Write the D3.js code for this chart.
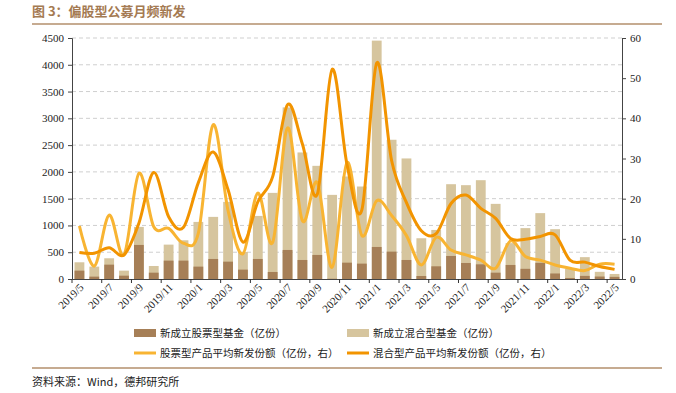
<!DOCTYPE html>
<html>
<head>
<meta charset="utf-8">
<script src="https://cdn.jsdelivr.net/npm/d3@7"></script>
<style>
  body { margin: 0; background: #fff; }
  svg { display: block; }
  .axis text { font-family: "Liberation Serif", "Times New Roman", serif; }
</style>
</head>
<body>
<div id="wrapper"></div>
<script>
const months = [
  "2019/5","2019/6","2019/7","2019/8","2019/9","2019/10","2019/11","2019/12",
  "2020/1","2020/2","2020/3","2020/4","2020/5","2020/6","2020/7","2020/8","2020/9","2020/10","2020/11","2020/12",
  "2021/1","2021/2","2021/3","2021/4","2021/5","2021/6","2021/7","2021/8","2021/9","2021/10","2021/11","2021/12",
  "2022/1","2022/2","2022/3","2022/4","2022/5"
]
// 新成立股票型基金（亿份）
const stockFund = [156, 44, 268, 62, 636, 118, 343, 343, 231, 374, 324, 175, 374, 131, 542, 355, 449, 5, 305, 287,
  598, 511, 355, 56, 237, 430, 299, 274, 118, 262, 190, 302, 103, 19, 58, 46, 40]
// 新成立混合型基金（亿份）
const mixedFund = [312, 231, 387, 156, 973, 243, 642, 723, 1066, 1160, 1440, 505, 1178, 1608, 3204, 2363, 2113, 1571, 1914, 1727,
  4451, 2600, 2251, 761, 916, 1770, 1752, 1845, 1403, 670, 950, 1230, 930, 195, 408, 134, 94]
// 股票型产品平均新发份额（亿份，右）
const stockAvg = [13.2, 3.2, 15.9, 6.0, 26.3, 13.0, 12.6, 8.9, 11.4, 38.4, 17.0, 6.3, 21.4, 9.1, 37.6, 14.5, 24.0, 2.9, 29.0, 10.8,
  19.5, 15.8, 10.8, 3.5, 10.4, 7.2, 6.0, 4.7, 2.7, 9.5, 5.6, 4.7, 3.5, 2.7, 2.1, 3.7, 3.7]
// 混合型产品平均新发份额（亿份，右）
const mixedAvg = [6.6, 6.4, 7.8, 6.0, 13.9, 26.5, 15.5, 12.9, 24.0, 31.6, 22.2, 9.2, 19.2, 25.5, 43.4, 33.6, 21.1, 52.2, 28.5, 17.2,
  53.8, 29.5, 19.0, 12.0, 11.3, 18.8, 20.9, 17.6, 15.1, 10.1, 9.9, 10.6, 11.0, 4.7, 4.2, 3.1, 2.4]

const leftTicks = [0, 500, 1000, 1500, 2000, 2500, 3000, 3500, 4000, 4500]
const rightTicks = [0, 10, 20, 30, 40, 50, 60]
const xLabels = months.filter((d, i) => i % 2 == 0)

const colors = {
  stockFund: "#a67f57",
  mixedFund: "#d6c59e",
  stockAvg: "#f8b432",
  mixedAvg: "#f29400",
  brand: "#a47a52",
}

function drawChart() {
  let dimensions = {
    width: 676,
    height: 393,
    margins: { top: 38, right: 54, bottom: 114, left: 72 }
  }
  dimensions.boundedWidth = dimensions.width - dimensions.margins.left - dimensions.margins.right
  dimensions.boundedHeight = dimensions.height - dimensions.margins.top - dimensions.margins.bottom

  const wrapper = d3.select("#wrapper")
    .append("svg")
      .attr("width", dimensions.width)
      .attr("height", dimensions.height)

  // header
  wrapper.append("text")
    .attr("x", 32)
    .attr("y", 16)
    .attr("fill", colors.brand)
    .attr("font-family", "Noto Sans CJK SC")
    .attr("font-weight", "bold")
    .attr("font-size", 13)
    .text("图 3：偏股型公募月频新发")
  wrapper.append("line")
    .attr("x1", 32).attr("x2", 662)
    .attr("y1", 24).attr("y2", 24)
    .attr("stroke", "#b38f6c")
    .attr("stroke-width", 1.5)

  const bounds = wrapper.append("g")
    .attr("transform", `translate(${dimensions.margins.left}, ${dimensions.margins.top})`)

  const xScale = d3.scaleBand()
    .domain(months)
    .range([0, dimensions.boundedWidth])
    .paddingInner(0.34)
    .paddingOuter(0.17)

  const yScale = d3.scaleLinear()
    .domain([0, 4500])
    .range([dimensions.boundedHeight, 0])

  const y2Scale = d3.scaleLinear()
    .domain([0, 60])
    .range([dimensions.boundedHeight, 0])

  // grid
  bounds.append("g")
    .selectAll("line")
    .data(leftTicks.filter(d => d > 0))
    .join("line")
      .attr("x1", 0)
      .attr("x2", dimensions.boundedWidth)
      .attr("y1", d => yScale(d))
      .attr("y2", d => yScale(d))
      .attr("stroke", "#cfcfcf")
      .attr("stroke-dasharray", "4,3")

  // bars, mixed behind, stock in front
  bounds.append("g")
    .selectAll("rect")
    .data(mixedFund)
    .join("rect")
      .attr("x", (d, i) => xScale(months[i]))
      .attr("y", d => yScale(d))
      .attr("width", xScale.bandwidth())
      .attr("height", d => dimensions.boundedHeight - yScale(d))
      .attr("fill", colors.mixedFund)

  bounds.append("g")
    .selectAll("rect")
    .data(stockFund)
    .join("rect")
      .attr("x", (d, i) => xScale(months[i]))
      .attr("y", d => yScale(d))
      .attr("width", xScale.bandwidth())
      .attr("height", d => dimensions.boundedHeight - yScale(d))
      .attr("fill", colors.stockFund)

  // smoothed lines on right axis
  const lineGenerator = d3.line()
    .x((d, i) => xScale(months[i]) + xScale.bandwidth() / 2)
    .y(d => y2Scale(d))
    .curve(d3.curveCatmullRom.alpha(0))

  bounds.append("path")
    .attr("d", lineGenerator(stockAvg))
    .attr("fill", "none")
    .attr("stroke", colors.stockAvg)
    .attr("stroke-width", 3)
    .attr("stroke-linejoin", "round")

  bounds.append("path")
    .attr("d", lineGenerator(mixedAvg))
    .attr("fill", "none")
    .attr("stroke", colors.mixedAvg)
    .attr("stroke-width", 3)
    .attr("stroke-linejoin", "round")

  // axes
  const yAxisGenerator = d3.axisLeft(yScale)
    .tickValues(leftTicks)
    .tickFormat(d3.format("d"))
    .tickSize(4)
    .tickPadding(4)
  const yAxis = bounds.append("g").call(yAxisGenerator)

  const y2AxisGenerator = d3.axisRight(y2Scale)
    .tickValues(rightTicks)
    .tickFormat(d3.format("d"))
    .tickSize(4)
    .tickPadding(4)
  const y2Axis = bounds.append("g")
    .attr("transform", `translate(${dimensions.boundedWidth}, 0)`)
    .call(y2AxisGenerator)

  const xAxisGenerator = d3.axisBottom(xScale)
    .tickValues(xLabels)
    .tickSize(0)
    .tickPadding(0)
  const xAxis = bounds.append("g")
    .attr("transform", `translate(0, ${dimensions.boundedHeight})`)
    .call(xAxisGenerator)

  xAxis.selectAll("text")
    .attr("text-anchor", "end")
    .attr("dy", 0)
    .attr("transform", "translate(5, 9) rotate(-45)")

  // category boundary ticks every two months
  const step = xScale.step()
  const x0 = xScale(months[0]) - xScale.paddingOuter() * step
  xAxis.append("g")
    .selectAll("line")
    .data(d3.range(0, months.length + 1, 2))
    .join("line")
      .attr("x1", i => x0 + i * step)
      .attr("x2", i => x0 + i * step)
      .attr("y1", 0)
      .attr("y2", 4)
      .attr("stroke", "#333")

  ;[yAxis, y2Axis, xAxis].forEach(ax => {
    ax.attr("class", "axis").attr("font-family", null).attr("font-size", 11)
    ax.selectAll("text")
      .attr("font-size", 11)
      .attr("fill", "#222")
    ax.select(".domain").attr("stroke", "#444")
    ax.selectAll(".tick line").attr("stroke", "#444")
  })

  // legend
  const legend = wrapper.append("g")
    .attr("font-family", "Noto Sans CJK SC")
    .attr("font-size", 10.5)
    .attr("fill", "#222")

  const legendItems = [
    { label: "新成立股票型基金（亿份）", color: colors.stockFund, type: "rect", x: 134, y: 333 },
    { label: "新成立混合型基金（亿份）", color: colors.mixedFund, type: "rect", x: 347, y: 333 },
    { label: "股票型产品平均新发份额（亿份，右）", color: colors.stockAvg, type: "line", x: 134, y: 353 },
    { label: "混合型产品平均新发份额（亿份，右）", color: colors.mixedAvg, type: "line", x: 347, y: 353 },
  ]

  legendItems.forEach(item => {
    if (item.type == "rect") {
      legend.append("rect")
        .attr("x", item.x)
        .attr("y", item.y - 4)
        .attr("width", 22)
        .attr("height", 8)
        .attr("fill", item.color)
    } else {
      legend.append("line")
        .attr("x1", item.x).attr("x2", item.x + 22)
        .attr("y1", item.y).attr("y2", item.y)
        .attr("stroke", item.color)
        .attr("stroke-width", 3)
    }
    legend.append("text")
      .attr("x", item.x + 26)
      .attr("y", item.y + 4)
      .text(item.label)
  })

  // footer
  wrapper.append("line")
    .attr("x1", 32).attr("x2", 662)
    .attr("y1", 368).attr("y2", 368)
    .attr("stroke", "#b38f6c")
    .attr("stroke-width", 1.5)
  wrapper.append("text")
    .attr("x", 32)
    .attr("y", 386)
    .attr("font-family", "Noto Sans CJK SC")
    .attr("font-size", 11)
    .attr("fill", "#222")
    .text("资料来源：Wind，德邦研究所")
}

drawChart()
</script>
</body>
</html>
